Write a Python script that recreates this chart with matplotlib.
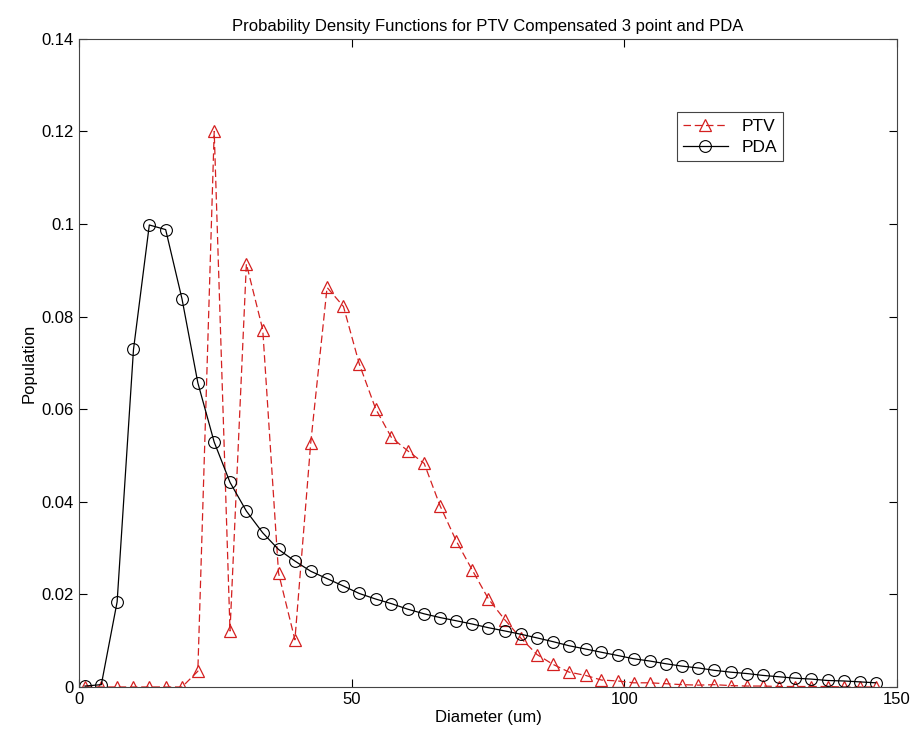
import matplotlib
matplotlib.use('Agg')
import matplotlib.pyplot as plt
from matplotlib.ticker import FormatStrFormatter

plt.rcParams['font.family'] = ['Liberation Sans', 'DejaVu Sans']

# bin centres (um)
diameter = [1.1, 4.1, 7.0, 10.0, 12.9, 15.9, 18.9, 21.8, 24.8, 27.7,
            30.7, 33.7, 36.6, 39.6, 42.5, 45.5, 48.5, 51.4, 54.4, 57.3,
            60.3, 63.3, 66.2, 69.2, 72.1, 75.1, 78.1, 81.0, 84.0, 86.9,
            89.9, 92.9, 95.8, 98.8, 101.7, 104.7, 107.7, 110.6, 113.6, 116.5,
            119.5, 122.5, 125.4, 128.4, 131.3, 134.3, 137.3, 140.2, 143.2, 146.1]

ptv = [0, 0, 0, 0, 0, 0, 0, 0.0034, 0.120, 0.0121,
       0.0914, 0.0772, 0.0246, 0.0102, 0.0527, 0.0863, 0.0822, 0.0698, 0.0601, 0.0539,
       0.0510, 0.0483, 0.0392, 0.0315, 0.0253, 0.0190, 0.0145, 0.0106, 0.0070, 0.0049,
       0.0032, 0.0025, 0.0015, 0.0013, 0.0009, 0.0009, 0.0007, 0.0005, 0.0004, 0.0005,
       0.0003, 0.0002, 0.0002, 0.0001, 0.0001, 0.0001, 0.0001, 0, 0, 0]

pda = [0.0002, 0.0005, 0.0184, 0.0729, 0.0998, 0.0988, 0.0838, 0.0657, 0.0529, 0.0442,
       0.0380, 0.0333, 0.0297, 0.0272, 0.0250, 0.0234, 0.0218, 0.0202, 0.0190, 0.0180,
       0.0168, 0.0158, 0.0150, 0.0143, 0.0136, 0.0128, 0.0121, 0.0114, 0.0106, 0.0098,
       0.0089, 0.0082, 0.0075, 0.0068, 0.0061, 0.0056, 0.0050, 0.0045, 0.0041, 0.0036,
       0.0032, 0.0029, 0.0025, 0.0022, 0.0019, 0.0017, 0.0014, 0.0013, 0.0011, 0.0009]

fig = plt.figure(figsize=(9.16, 7.39), dpi=100)
ax = fig.add_axes([0.0862, 0.0704, 0.893, 0.877])

ax.plot(diameter, ptv, color='#d42020', lw=0.9, dashes=(6, 3), marker='^', ms=8.5,
        mfc='none', mec='#d42020', mew=0.9, label='PTV')
ax.plot(diameter, pda, '-', color='black', lw=0.9, marker='o', ms=8.5,
        mfc='none', mec='black', mew=0.8, label='PDA')

ax.set_xlim(0, 150)
ax.set_ylim(0, 0.14)
ax.set_xticks([0, 50, 100, 150])
ax.set_yticks([0, 0.02, 0.04, 0.06, 0.08, 0.1, 0.12, 0.14])
ax.yaxis.set_major_formatter(FormatStrFormatter('%g'))
ax.tick_params(direction='in', top=True, right=True, length=6, labelsize=12)
for s in ax.spines.values():
    s.set_color('#444444')

ax.set_title('Probability Density Functions for PTV Compensated 3 point and PDA', fontsize=12)
ax.set_xlabel('Diameter (um)', fontsize=12, labelpad=2)
ax.set_ylabel('Population', fontsize=12, labelpad=4)

leg = ax.legend(loc='upper left', bbox_to_anchor=(0.72, 0.9), fontsize=12.5,
                fancybox=False, framealpha=1, edgecolor='#444444',
                borderpad=0.35, handlelength=2.6, labelspacing=0.35)
leg.get_frame().set_linewidth(0.8)

fig.savefig('out.png', dpi=100)
